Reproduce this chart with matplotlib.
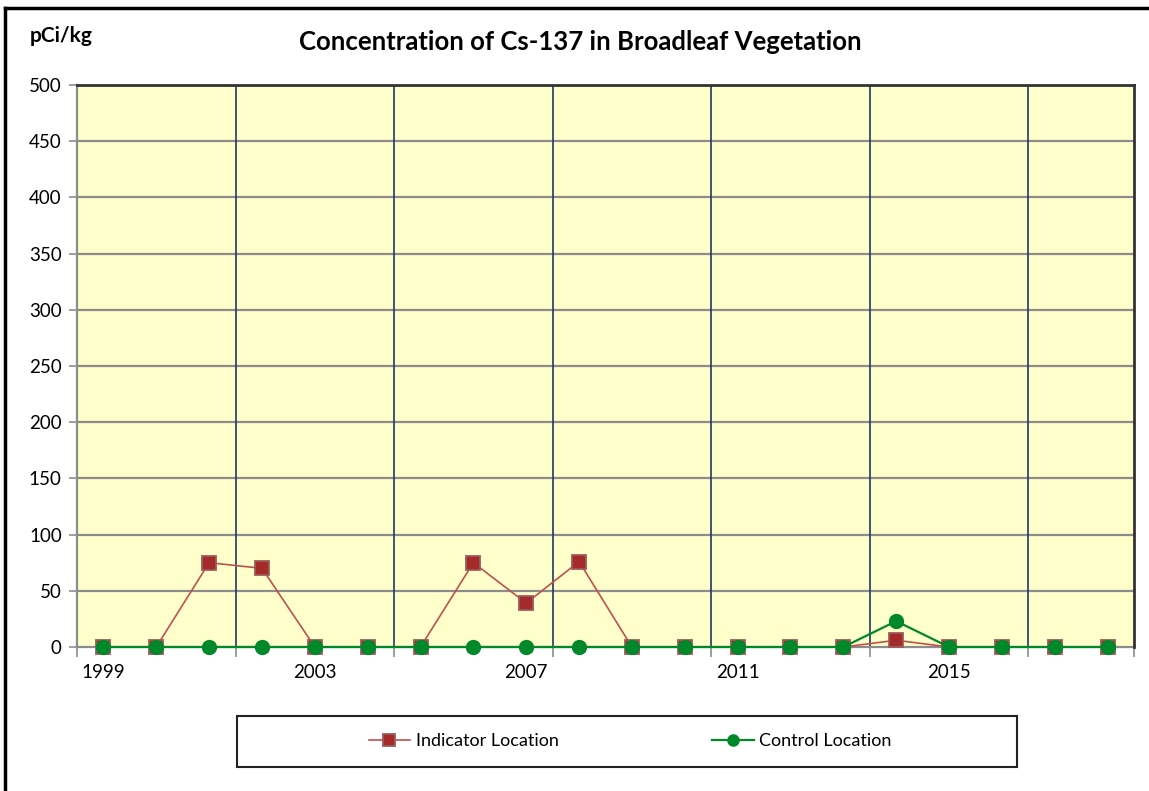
import matplotlib
matplotlib.use("Agg")
import matplotlib.pyplot as plt
from matplotlib.lines import Line2D
from matplotlib.patches import Rectangle

years = list(range(1999, 2019))
indicator = [0, 0, 75, 70, 0, 0, 0, 75, 39, 76, 0, 0, 0, 0, 0, 6, 0, 0, 0, 0]
control = [0, 0, 0, 0, 0, 0, 0, 0, 0, 0, 0, 0, 0, 0, 0, 23, 0, 0, 0, 0]
label_years = [1999, 2003, 2007, 2011, 2015]
y_ticks = list(range(0, 501, 50))

plt.rcParams['font.family'] = ['Lato', 'DejaVu Sans']

W, H = 1149, 791
fig = plt.figure(figsize=(W / 100, H / 100), dpi=100)

# plot area in pixels
x0, x1, ytop, ybot = 77, 1134, 85, 647
ax = fig.add_axes([x0 / W, 1 - ybot / H, (x1 - x0) / W, (ybot - ytop) / H])
ax.set_facecolor('#FFFFCC')

ax.set_xlim(1998.5, 2018.5)
ax.set_ylim(0, 500)

# horizontal gridlines
for v in y_ticks[1:]:
    ax.axhline(v, color='#8C8C8C', lw=1.6, zorder=1)
# vertical gridlines every 3 categories
vlines = [1998.5 + 3 * k for k in range(1, 7)]
for v in vlines:
    ax.axvline(v, color='#1F3864', lw=1.2, zorder=1)

ax.plot(years, indicator, color='#C0504D', lw=1.2, marker='s', ms=10.5,
        mfc='#A52A2A', mec='#9E5A5A', mew=1.3, zorder=3, clip_on=False,
        label='Indicator Location')
ax.plot(years, control, color='#00882B', lw=1.6, marker='o', ms=10,
        mfc='#00882B', mec='#00882B', zorder=4, clip_on=False,
        label='Control Location')

ax.set_yticks(y_ticks)
ax.set_xticks(label_years)
ax.set_xticks([1998.5] + vlines + [2018.5], minor=True)
ax.tick_params(axis='x', which='major', length=0, pad=12, labelsize=13.5)
ax.tick_params(axis='x', which='minor', length=7, color='#8C8C8C', width=1.2)
ax.tick_params(axis='y', length=6, color='#8C8C8C', width=1.2, labelsize=13.5, pad=5)

for s in ['left', 'bottom']:
    ax.spines[s].set_color('#8C8C8C')
    ax.spines[s].set_linewidth(1.6)
for s in ['top', 'right']:
    ax.spines[s].set_color('#333333')
    ax.spines[s].set_linewidth(2)
ax.spines['bottom'].set_zorder(2)

fig.text(580 / W, 1 - 42 / H, 'Concentration of Cs-137 in Broadleaf Vegetation',
         ha='center', va='center', fontsize=18.5, fontweight='bold')
fig.text(30 / W, 1 - 36 / H, 'pCi/kg', ha='left', va='center',
         fontsize=15, fontweight='bold')

# legend box
fig.add_artist(Rectangle((237 / W, 1 - 767 / H), (1017 - 237) / W, (767 - 716) / H,
                         transform=fig.transFigure, fill=False, ec='#222222', lw=1.5))
fig.legend(loc='center', bbox_to_anchor=(630 / W, 1 - 741 / H), ncol=2,
           frameon=False, fontsize=13, columnspacing=8.5, handlelength=2.3,
           handletextpad=0.3, markerscale=0.8)

# outer chart border (top and left visible)
fig.add_artist(Line2D([5 / W, 1], [1 - 8 / H, 1 - 8 / H], transform=fig.transFigure,
                      color='black', lw=2.5))
fig.add_artist(Line2D([5 / W, 5 / W], [0, 1 - 8 / H], transform=fig.transFigure,
                      color='black', lw=2.5))

fig.savefig('out.png', dpi=100)
